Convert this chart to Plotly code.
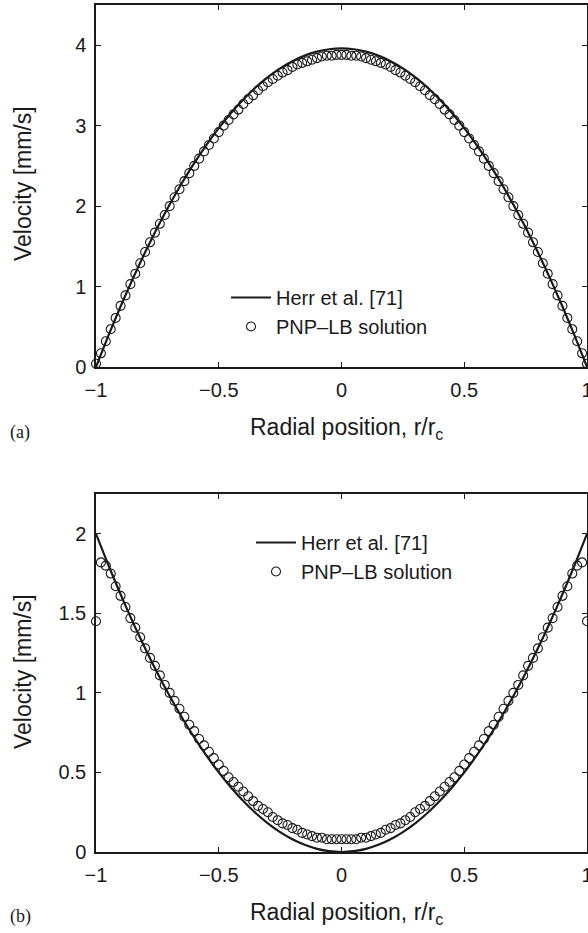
import plotly.graph_objects as go

# ---------------- data ----------------
# radial positions of the PNP-LB markers
X_PTS = [-1.00,-0.98,-0.96,-0.94,-0.92,-0.90,-0.88,-0.86,-0.84,-0.82,-0.80,-0.78,-0.76,-0.74,-0.72,
         -0.70,-0.68,-0.66,-0.64,-0.62,-0.60,-0.58,-0.56,-0.54,-0.52,-0.50,-0.48,-0.46,-0.44,-0.42,
         -0.40,-0.38,-0.36,-0.34,-0.32,-0.30,-0.28,-0.26,-0.24,-0.22,-0.20,-0.18,-0.16,-0.14,-0.12,
         -0.10,-0.08,-0.06,-0.04,-0.02,0.00,0.02,0.04,0.06,0.08,0.10,0.12,0.14,0.16,0.18,0.20,
         0.22,0.24,0.26,0.28,0.30,0.32,0.34,0.36,0.38,0.40,0.42,0.44,0.46,0.48,0.50,0.52,0.54,
         0.56,0.58,0.60,0.62,0.64,0.66,0.68,0.70,0.72,0.74,0.76,0.78,0.80,0.82,0.84,0.86,0.88,
         0.90,0.92,0.94,0.96,0.98,1.00]

# (a) PNP-LB solution
PNP_A = [0.04,0.17,0.32,0.47,0.61,0.76,0.89,1.03,1.16,1.29,1.43,1.55,1.67,1.78,1.89,
         2.00,2.11,2.21,2.31,2.41,2.50,2.59,2.68,2.76,2.84,2.92,3.00,3.07,3.14,3.20,
         3.27,3.33,3.38,3.44,3.49,3.54,3.58,3.62,3.66,3.69,3.73,3.76,3.78,3.80,3.82,
         3.84,3.86,3.87,3.87,3.88,3.88,3.88,3.87,3.87,3.86,3.84,3.82,3.80,3.78,3.76,3.73,
         3.69,3.66,3.62,3.58,3.54,3.49,3.44,3.38,3.33,3.27,3.20,3.14,3.07,3.00,2.92,2.84,2.76,
         2.68,2.59,2.50,2.41,2.31,2.21,2.11,2.00,1.89,1.78,1.67,1.55,1.43,1.29,1.16,1.03,0.89,
         0.76,0.61,0.47,0.32,0.17,0.04]

# (b) PNP-LB solution
PNP_B = [1.45,1.82,1.80,1.75,1.67,1.61,1.54,1.47,1.41,1.35,1.28,1.22,1.17,1.11,1.05,
         1.00,0.95,0.90,0.85,0.80,0.76,0.71,0.67,0.63,0.59,0.55,0.51,0.47,0.44,0.41,
         0.38,0.35,0.32,0.29,0.27,0.25,0.22,0.20,0.18,0.17,0.15,0.14,0.12,0.11,0.10,
         0.09,0.09,0.08,0.08,0.08,0.08,0.08,0.08,0.08,0.09,0.09,0.10,0.11,0.12,0.14,0.15,
         0.17,0.18,0.20,0.22,0.25,0.27,0.29,0.32,0.35,0.38,0.41,0.44,0.47,0.51,0.55,0.59,0.63,
         0.67,0.71,0.76,0.80,0.85,0.90,0.95,1.00,1.05,1.11,1.17,1.22,1.28,1.35,1.41,1.47,1.54,
         1.61,1.67,1.75,1.80,1.82,1.45]

# radial positions of the analytical (Herr et al.) curves
X_LINE = [-1.00,-0.95,-0.90,-0.85,-0.80,-0.75,-0.70,-0.65,-0.60,-0.55,-0.50,-0.45,-0.40,-0.35,
          -0.30,-0.25,-0.20,-0.15,-0.10,-0.05,0.00,0.05,0.10,0.15,0.20,0.25,0.30,0.35,0.40,
          0.45,0.50,0.55,0.60,0.65,0.70,0.75,0.80,0.85,0.90,0.95,1.00]

HERR_A = [0.000,0.386,0.752,1.099,1.426,1.733,2.020,2.287,2.534,2.762,2.970,3.158,3.326,3.475,
          3.604,3.713,3.802,3.871,3.920,3.950,3.960,3.950,3.920,3.871,3.802,3.713,3.604,3.475,
          3.326,3.158,2.970,2.762,2.534,2.287,2.020,1.733,1.426,1.099,0.752,0.386,0.000]

HERR_B = [2.000,1.805,1.620,1.445,1.280,1.125,0.980,0.845,0.720,0.605,0.500,0.405,0.320,0.245,
          0.180,0.125,0.080,0.045,0.020,0.005,0.000,0.005,0.020,0.045,0.080,0.125,0.180,0.245,
          0.320,0.405,0.500,0.605,0.720,0.845,0.980,1.125,1.280,1.445,1.620,1.805,2.000]

X_TICKS = [-1, -0.5, 0, 0.5, 1]
X_TICKTEXT = ["\u22121", "\u22120.5", "0", "0.5", "1"]
YA_TICKS = [0, 1, 2, 3, 4]
YB_TICKS = [0, 0.5, 1, 1.5, 2]

assert len(X_PTS) == len(PNP_A) == len(PNP_B)
assert len(X_LINE) == len(HERR_A) == len(HERR_B)

# ---------------- figure ----------------
W, H = 588, 933
FONT = "Liberation Sans, Arial, Helvetica, sans-serif"
BLACK = "#1a1a1a"

def px_x(p):
    return p / W

def px_y(p):
    return 1 - p / H

fig = go.Figure()

line_style = dict(color=BLACK, width=2.2, shape="spline", smoothing=0.6)
marker_style = dict(symbol="circle-open", size=9, color=BLACK, line=dict(width=1.1, color=BLACK))

fig.add_trace(go.Scatter(x=X_LINE, y=HERR_A, mode="lines", line=line_style,
                         name="Herr et al. [71]", xaxis="x", yaxis="y", legend="legend"))
fig.add_trace(go.Scatter(x=X_PTS, y=PNP_A, mode="markers", marker=marker_style,
                         name="PNP\u2013LB solution", xaxis="x", yaxis="y", legend="legend",
                         cliponaxis=False))
fig.add_trace(go.Scatter(x=X_LINE, y=HERR_B, mode="lines", line=line_style,
                         name="Herr et al. [71]", xaxis="x2", yaxis="y2", legend="legend2"))
fig.add_trace(go.Scatter(x=X_PTS, y=PNP_B, mode="markers", marker=marker_style,
                         name="PNP\u2013LB solution", xaxis="x2", yaxis="y2", legend="legend2",
                         cliponaxis=False))

xdom = [px_x(96), px_x(587)]
axis_common = dict(showgrid=False, zeroline=False, showline=True, linecolor=BLACK, linewidth=1.5,
                   mirror="ticks", ticks="inside", ticklen=5, tickwidth=1, tickcolor=BLACK,
                   tickfont=dict(family=FONT, size=20, color=BLACK), automargin=False,
                   ticklabeloverflow="allow", ticklabelstandoff=4)

legend_common = dict(xanchor="left", yanchor="top", bgcolor="rgba(0,0,0,0)", borderwidth=0,
                     font=dict(family=FONT, size=20, color=BLACK), tracegroupgap=0,
                     itemwidth=40)

fig.update_layout(
    width=W, height=H,
    margin=dict(l=0, r=0, t=0, b=0),
    paper_bgcolor="white", plot_bgcolor="white",
    xaxis=dict(domain=xdom, range=[-1, 1], tickvals=X_TICKS, ticktext=X_TICKTEXT,
               anchor="y", **axis_common),
    yaxis=dict(domain=[px_y(367), px_y(5)], range=[0, 4.5], tickvals=YA_TICKS,
               anchor="x", **axis_common),
    xaxis2=dict(domain=xdom, range=[-1, 1], tickvals=X_TICKS, ticktext=X_TICKTEXT,
                anchor="y2", **axis_common),
    yaxis2=dict(domain=[px_y(852), px_y(494)], range=[0, 2.25], tickvals=YB_TICKS,
                anchor="x2", **axis_common),
    legend=dict(x=px_x(226), y=px_y(278), **legend_common),
    legend2=dict(x=px_x(251), y=px_y(523), **legend_common),
    showlegend=True,
)

title_font = dict(family=FONT, size=23, color=BLACK)
label_font = dict(family="Liberation Serif, Times New Roman, serif", size=18, color=BLACK)

annotations = [
    dict(text="Radial position, r/r<sub>c</sub>", x=px_x(346), y=px_y(428), font=title_font),
    dict(text="Radial position, r/r<sub>c</sub>", x=px_x(346), y=px_y(913), font=title_font),
    dict(text="Velocity [mm/s]", x=px_x(23), y=px_y(184), textangle=-90, font=title_font),
    dict(text="Velocity [mm/s]", x=px_x(23), y=px_y(672), textangle=-90, font=title_font),
    dict(text="(a)", x=px_x(20), y=px_y(432), font=label_font),
    dict(text="(b)", x=px_x(20), y=px_y(916), font=label_font),
]
for a in annotations:
    a.update(xref="paper", yref="paper", showarrow=False, xanchor="center", yanchor="middle")
fig.update_layout(annotations=annotations)

fig.write_html("out.html")
